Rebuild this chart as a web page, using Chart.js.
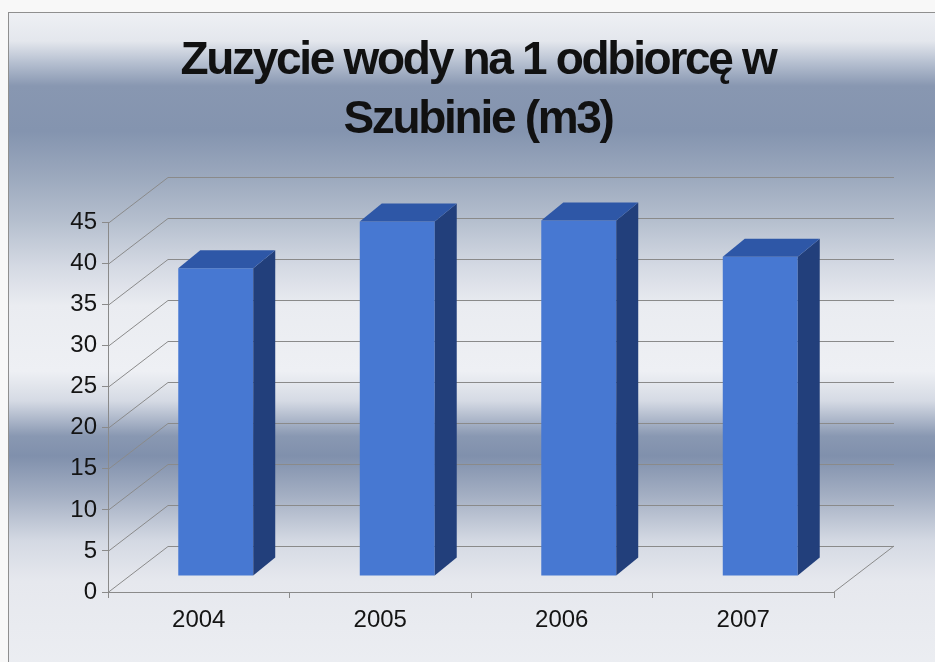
<!DOCTYPE html>
<html>
<head>
<meta charset="utf-8">
<title>Zuzycie wody na 1 odbiorcę w Szubinie</title>
<script src="https://cdn.jsdelivr.net/npm/chart.js@4.4.1/dist/chart.umd.min.js"></script>
<style>
  html, body { margin: 0; padding: 0; background: #f8f8f8; }
  #wrap { position: relative; width: 935px; height: 662px; overflow: hidden; }
  #frame {
    position: absolute; left: 8px; top: 12px; width: 940px; height: 660px;
    border: 1px solid #8f8f8f;
    background: linear-gradient(to bottom,
      #eef0f4 0px, #e4e7ed 28px, #b5bfd0 50px, #8897b1 73px, #8494af 118px,
      #9ba8bd 163px, #b5bfce 208px, #d4d9e3 253px, #eaecf1 293px, #eef0f4 358px,
      #d5dae4 388px, #8998b2 423px, #8090ac 443px, #a4afc3 483px, #d4d9e3 528px,
      #e6e8ee 568px, #eceef2 660px);
  }
  canvas { position: absolute; left: 0; top: 0; }
</style>
</head>
<body>
<div id="wrap">
  <div id="frame"></div>
  <canvas id="chart" width="935" height="662"></canvas>
</div>
<script>
// data
const years = ['2004', '2005', '2006', '2007'];
const usage = [37.5, 43.2, 43.3, 38.9];
const titleLines = ['Zuzycie wody na 1 odbiorcę w', 'Szubinie (m3)'];
const yMax = 45;
const yStep = 5;

const FONT = '"Liberation Sans", Arial, sans-serif';
const GRID = '#8a8a8a';
const FRONT = '#4778d2';
const SIDE = '#223f7b';
const TOP = '#2e57a7';

// fake 3d: back wall offset, bar shift into depth, bar depth
const WALL = { dx: 60, dy: -46 };
const SHIFT = { dx: 17, dy: -16 };
const DEPTH = { dx: 22, dy: -18 };

function poly(ctx, pts, fill) {
  ctx.beginPath();
  pts.forEach(([x, y], i) => (i ? ctx.lineTo(x, y) : ctx.moveTo(x, y)));
  ctx.closePath();
  ctx.fillStyle = fill;
  ctx.fill();
}

const threeD = {
  id: 'threeD',
  beforeDraw(chart) {
    // tight letter spacing + centering for the title, like the original
    const tb = chart.titleBlock;
    if (tb && !tb._tight) {
      const orig = tb.draw.bind(tb);
      tb.draw = function () {
        const ctx = chart.ctx;
        ctx.save();
        ctx.letterSpacing = '-2.3px';
        ctx.translate(61, 2);
        orig();
        ctx.restore();
      };
      tb._tight = true;
    }
  },
  beforeDatasetsDraw(chart) {
    const { ctx, chartArea: a, scales: { y } } = chart;
    ctx.save();
    ctx.strokeStyle = GRID;
    ctx.lineWidth = 1;
    ctx.beginPath();
    y.ticks.forEach((t) => {
      const py = Math.round(y.getPixelForValue(t.value)) + 0.5;
      ctx.moveTo(a.left, py);
      ctx.lineTo(a.left + WALL.dx, py + WALL.dy);
      ctx.lineTo(a.right + WALL.dx, py + WALL.dy);
    });
    ctx.moveTo(a.right, a.bottom);
    ctx.lineTo(a.right + WALL.dx, a.bottom + WALL.dy);
    ctx.stroke();
    ctx.restore();
    // bars sit a bit behind the front plane
    ctx.save();
    ctx.translate(SHIFT.dx, SHIFT.dy);
  },
  afterDatasetsDraw(chart) {
    const ctx = chart.ctx;
    ctx.restore();
    chart.getDatasetMeta(0).data.forEach((bar) => {
      const { x, y, base, width } = bar.getProps(['x', 'y', 'base', 'width'], true);
      const l = x - width / 2 + SHIFT.dx, r = x + width / 2 + SHIFT.dx;
      const t = y + SHIFT.dy, b = base + SHIFT.dy;
      poly(ctx, [[r, t], [r + DEPTH.dx, t + DEPTH.dy], [r + DEPTH.dx, b + DEPTH.dy], [r, b]], SIDE);
      poly(ctx, [[l, t], [l + DEPTH.dx, t + DEPTH.dy], [r + DEPTH.dx, t + DEPTH.dy], [r, t]], TOP);
    });
  },
};

new Chart(document.getElementById('chart'), {
  type: 'bar',
  data: {
    labels: years,
    datasets: [{
      label: 'Zuzycie wody (m3)',
      data: usage,
      backgroundColor: FRONT,
      borderWidth: 0,
      barPercentage: 0.413,
      categoryPercentage: 1,
    }],
  },
  options: {
    responsive: false,
    animation: false,
    devicePixelRatio: 1,
    layout: { padding: { top: 12, left: 0, right: 101, bottom: 0 } },
    plugins: {
      legend: { display: false },
      tooltip: { enabled: false },
      title: {
        display: true,
        text: titleLines,
        color: '#111',
        font: { family: FONT, size: 46, weight: 'bold', lineHeight: 1.3 },
        padding: { top: 17, bottom: 74 },
      },
    },
    scales: {
      x: {
        grid: { drawOnChartArea: false, tickLength: 6, color: GRID, offset: true },
        border: { color: GRID },
        ticks: { color: '#141414', font: { family: FONT, size: 24 }, padding: 8 },
        afterFit: (s) => { s.height = 70; },
      },
      y: {
        min: 0,
        max: yMax,
        grid: { drawOnChartArea: false, tickLength: 6, color: GRID },
        border: { color: GRID },
        ticks: { stepSize: yStep, color: '#141414', font: { family: FONT, size: 24 }, padding: 5 },
        afterFit: (s) => { s.width = 108; },
      },
    },
  },
  plugins: [threeD],
});
</script>
</body>
</html>
